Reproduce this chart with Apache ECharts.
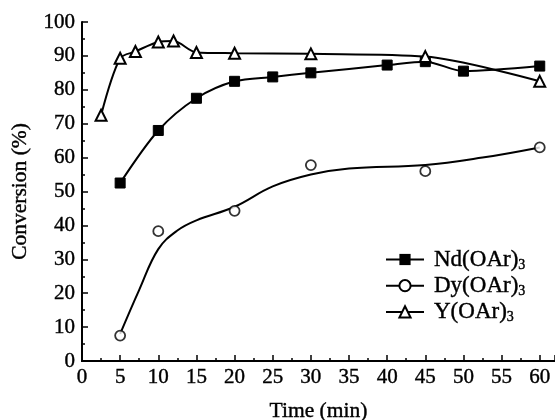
<!DOCTYPE html>
<html><head><meta charset="utf-8">
<script src="https://cdn.jsdelivr.net/npm/echarts@6/dist/echarts.min.js"></script>
<style>html,body{margin:0;padding:0;background:#fff}#c{width:555px;height:420px}</style>
</head><body><div id="c"></div>
<script>
// Data
const ndTime = [5, 10, 15, 20, 25, 30, 40, 45, 50, 60];
const ndConv = [52.5, 68, 77.5, 82.5, 83.8, 85, 87.3, 88.3, 85.5, 87];
const dyTime = [5, 10, 20, 30, 45, 60];
const dyConv = [7.5, 38.3, 44.3, 57.8, 56, 63];
const dyFitTime = [5, 7.5, 10, 12.5, 15, 20, 25, 30, 35, 45, 52.5, 60];
const dyFitConv = [8, 21, 33, 38.5, 41.5, 45.5, 51.5, 55, 56.8, 57.8, 60, 63];
const yTime = [2.5, 5, 7, 10, 12, 15, 20, 30, 45, 60];
const yConv = [72.5, 89.3, 91.3, 94.1, 94.4, 91, 90.8, 90.6, 89.8, 82.5];
const xTicks = [0, 5, 10, 15, 20, 25, 30, 35, 40, 45, 50, 55, 60];
const yTicks = [0, 10, 20, 30, 40, 50, 60, 70, 80, 90, 100];

const pair = (xs, ys) => xs.map((x, i) => [x, ys[i]]);
const FONT = '"Liberation Serif", "Times New Roman", serif';
const names = {nd: 'Nd(OAr)', dy: 'Dy(OAr)', y: 'Y(OAr)'};
const ink = {color: '#000', textBorderColor: '#000', textBorderWidth: 0.4};

const chart = echarts.init(document.getElementById('c'), null, {renderer: 'canvas'});
chart.setOption({
  animation: false,
  backgroundColor: '#fff',
  grid: {left: 82, right: 0, top: 22, bottom: 59, containLabel: false, outerBoundsMode: 'none'},
  legend: {
    orient: 'vertical', left: 385, top: 247, itemGap: 1, padding: 0,
    itemWidth: 38, itemHeight: 14,
    data: [names.nd, names.dy, names.y],
    formatter: n => '{a|' + n + '}{s|3}',
    textStyle: {
      fontFamily: FONT, color: '#000',
      rich: {
        a: Object.assign({fontFamily: FONT, fontSize: 23, lineHeight: 25, padding: [0, 0, 0, 5]}, ink),
        s: Object.assign({fontFamily: FONT, fontSize: 14, lineHeight: 14, padding: [11, 0, 0, 0]}, ink)
      }
    }
  },
  xAxis: [{
    type: 'value', min: 0, max: 62, interval: 5,
    name: 'Time (min)', nameLocation: 'middle', nameGap: 39,
    nameTextStyle: Object.assign({fontFamily: FONT, fontSize: 21.5}, ink),
    axisLine: {show: true, onZero: false, lineStyle: {color: '#000', width: 2}},
    axisTick: {show: true, inside: true, length: 6, lineStyle: {color: '#000', width: 1.5}},
    minorTick: {show: true, splitNumber: 2, length: 3, lineStyle: {color: '#000', width: 1.5}},
    axisLabel: Object.assign({fontFamily: FONT, fontSize: 21, margin: 6,
      formatter: v => xTicks.includes(v) ? String(v) : ''}, ink),
    splitLine: {show: false}
  }, {
    type: 'value', position: 'top', min: 0, max: 62,
    axisLine: {show: true, lineStyle: {color: '#000', width: 2}},
    axisTick: {show: false}, axisLabel: {show: false}, splitLine: {show: false}
  }],
  yAxis: {
    type: 'value', min: 0, max: 100, interval: 10,
    name: 'Conversion (%)', nameLocation: 'middle', nameGap: 51,
    nameTextStyle: Object.assign({fontFamily: FONT, fontSize: 21.5}, ink),
    axisLine: {show: true, onZero: false, lineStyle: {color: '#000', width: 2}},
    axisTick: {show: true, inside: true, length: 6, lineStyle: {color: '#000', width: 1.5}},
    minorTick: {show: true, splitNumber: 2, length: 3, lineStyle: {color: '#000', width: 1.5}},
    axisLabel: Object.assign({fontFamily: FONT, fontSize: 21, margin: 7,
      formatter: v => yTicks.includes(v) ? String(v) : ''}, ink),
    splitLine: {show: false}
  },
  series: [
    {
      name: names.nd, type: 'line', data: pair(ndTime, ndConv), smooth: 0.3,
      symbol: 'rect', symbolSize: 10,
      itemStyle: {color: '#000', borderColor: '#000'},
      lineStyle: {color: '#000', width: 2}, z: 3
    },
    {
      name: names.dy, type: 'line', data: pair(dyFitTime, dyFitConv), smooth: 0.4,
      symbol: 'circle', symbolSize: 9, showSymbol: false,
      itemStyle: {color: '#fff', borderColor: '#000', borderWidth: 1.5},
      lineStyle: {color: '#000', width: 2}, z: 2
    },
    {
      name: names.dy, type: 'scatter', data: pair(dyTime, dyConv),
      symbol: 'circle', symbolSize: 10,
      itemStyle: {color: '#fff', borderColor: '#000', borderWidth: 1.8}, z: 4
    },
    {
      name: names.y, type: 'line', data: pair(yTime, yConv), smooth: 0.3,
      symbol: 'triangle', symbolSize: 11,
      itemStyle: {color: '#fff', borderColor: '#000', borderWidth: 2},
      lineStyle: {color: '#000', width: 2}, z: 3
    }
  ]
});
</script></body></html>
